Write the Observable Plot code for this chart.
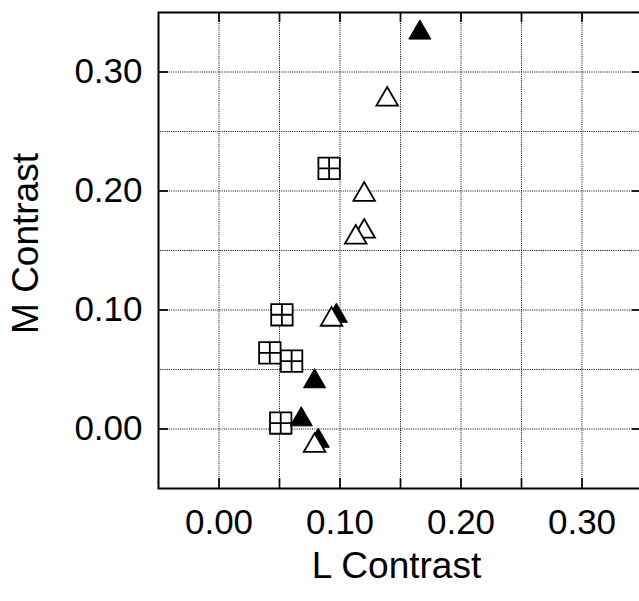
<!DOCTYPE html>
<html>
<head>
<meta charset="utf-8">
<script src="https://cdn.jsdelivr.net/npm/d3@7"></script>
<script src="https://cdn.jsdelivr.net/npm/@observablehq/plot@0.6"></script>
<style>
  html, body { margin: 0; padding: 0; background: #fff; overflow: hidden; }
  #chart svg { display: block; max-width: none !important; }
</style>
</head>
<body>
<div id="chart"></div>
<script>
// ---- data ----
const xLabelTicks = [0.00, 0.10, 0.20, 0.30];
const yLabelTicks = [0.00, 0.10, 0.20, 0.30];
const xMinorTicks = [0.00, 0.05, 0.10, 0.15, 0.20, 0.25, 0.30];
const gridValues  = [0.00, 0.05, 0.10, 0.15, 0.20, 0.25, 0.30];
const axisDomain  = [-0.05, 0.35];

// filled triangles
const filledL = [0.166, 0.097, 0.079, 0.068, 0.082];
const filledM = [0.333, 0.095, 0.040, 0.008, -0.010];
// open triangles
const openL = [0.139, 0.120, 0.120, 0.113, 0.093, 0.079];
const openM = [0.277, 0.197, 0.166, 0.161, 0.092, -0.014];
// squares with cross
const sqL = [0.091, 0.052, 0.042, 0.060, 0.051];
const sqM = [0.219, 0.096, 0.064, 0.057, 0.005];

const toRows = (xs, ys) => xs.map((x, i) => ({L: x, M: ys[i]}));
const filled = toRows(filledL, filledM);
const open = toRows(openL, openM);
const squares = toRows(sqL, sqM);

const squareCross = {
  draw(ctx, size) {
    const s = Math.sqrt(size) / 2;
    ctx.moveTo(-s, -s); ctx.lineTo(s, -s); ctx.lineTo(s, s); ctx.lineTo(-s, s); ctx.closePath();
    ctx.moveTo(0, -s); ctx.lineTo(0, s);
    ctx.moveTo(-s, 0); ctx.lineTo(s, 0);
  }
};

const W = 645, H = 601, mL = 158, mR = 3, mT = 12, mB = 113;
const span = axisDomain[1] - axisDomain[0];
const tickPx = 10;
const tx = tickPx / (W - mL - mR) * span;  // inward tick length in x data units
const ty = tickPx / (H - mT - mB) * span;  // inward tick length in y data units
const [lo, hi] = axisDomain;

const font = "'Liberation Sans', Arial, Helvetica, sans-serif";
const tickStyle = {stroke: "#000", strokeWidth: 1.7};

const chart = Plot.plot({
  width: W,
  height: H,
  marginLeft: mL,
  marginRight: mR,
  marginTop: mT,
  marginBottom: mB,
  style: {background: "#fff", color: "#000", fontFamily: font, overflow: "visible", maxWidth: "none"},
  x: {domain: axisDomain},
  y: {domain: axisDomain},
  marks: [
    Plot.gridX(gridValues, {stroke: "#000", strokeOpacity: 1, strokeWidth: 1, strokeDasharray: "1,1.2"}),
    Plot.gridY(gridValues, {stroke: "#000", strokeOpacity: 1, strokeWidth: 1, strokeDasharray: "1,1.2"}),
    // inward ticks
    Plot.ruleX(xMinorTicks, {x: d => d, y1: lo, y2: lo + ty, ...tickStyle}),
    Plot.ruleX(xMinorTicks, {x: d => d, y1: hi, y2: hi - ty, ...tickStyle}),
    Plot.ruleY(yLabelTicks, {y: d => d, x1: lo, x2: lo + tx, ...tickStyle}),
    Plot.ruleY(yLabelTicks, {y: d => d, x1: hi, x2: hi - tx, ...tickStyle}),
    // tick labels
    Plot.axisX(xLabelTicks, {anchor: "bottom", tickSize: 0, tickPadding: 21, fontSize: 35, tickFormat: d3.format(".2f"), label: null}),
    Plot.axisY(yLabelTicks, {anchor: "left", tickSize: 0, tickPadding: 16, fontSize: 35, tickFormat: d3.format(".2f"), label: null}),
    Plot.frame({stroke: "#000", strokeWidth: 2}),
    // axis titles
    Plot.text(["L Contrast"], {frameAnchor: "bottom", text: d => d, dx: -4, dy: 89, textAnchor: "middle", lineAnchor: "bottom", fontSize: 37, fill: "#000"}),
    Plot.text(["M Contrast"], {frameAnchor: "left", text: d => d, rotate: -90, dx: -121, dy: -7, textAnchor: "middle", lineAnchor: "bottom", fontSize: 37, fill: "#000"}),
    // data
    Plot.dot(squares, {x: "L", y: "M", symbol: squareCross, r: 12.1, fill: "#fff", stroke: "#000", strokeWidth: 1.8}),
    Plot.dot(filled, {x: "L", y: "M", symbol: "triangle", r: 8.2, fill: "#000", stroke: "#000", strokeWidth: 1}),
    Plot.dot(open, {x: "L", y: "M", symbol: "triangle", r: 8.0, fill: "#fff", stroke: "#000", strokeWidth: 1.8})
  ]
});
document.getElementById("chart").appendChild(chart);
</script>
</body>
</html>
